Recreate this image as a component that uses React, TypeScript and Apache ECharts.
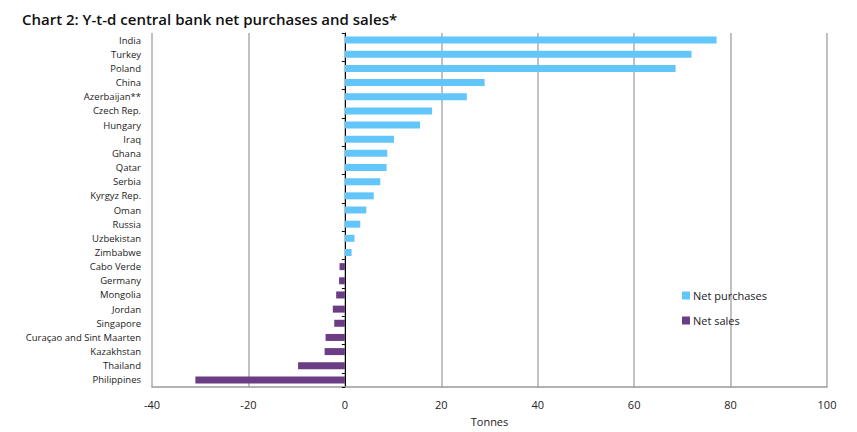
import React, { useEffect, useRef } from "react";
import * as echarts from "echarts";

const categories = [
  "India", "Turkey", "Poland", "China", "Azerbaijan**", "Czech Rep.", "Hungary", "Iraq",
  "Ghana", "Qatar", "Serbia", "Kyrgyz Rep.", "Oman", "Russia", "Uzbekistan", "Zimbabwe",
  "Cabo Verde", "Germany", "Mongolia", "Jordan", "Singapore", "Curaçao and Sint Maarten",
  "Kazakhstan", "Thailand", "Philippines",
];

const netPurchases: (number | string)[] = [
  77.1, 71.9, 68.6, 29.0, 25.3, 18.1, 15.6, 10.2,
  8.8, 8.65, 7.35, 6.0, 4.45, 3.2, 2.0, 1.4,
  "-", "-", "-", "-", "-", "-", "-", "-", "-",
];

const netSales: (number | string)[] = [
  "-", "-", "-", "-", "-", "-", "-", "-",
  "-", "-", "-", "-", "-", "-", "-", "-",
  -1.1, -1.2, -1.8, -2.5, -2.2, -4.0, -4.2, -9.7, -31.0,
];

const xTicks = { min: -40, max: 100, interval: 20 };

const FONT = "'Open Sans', 'Noto Sans', sans-serif";

export default function App() {
  const ref = useRef<HTMLDivElement>(null);
  useEffect(() => {
    if (!ref.current) return;
    document.body.style.margin = "0";
    document.body.style.overflow = "hidden";
    const chart = echarts.init(ref.current, undefined, { renderer: "svg" });
    chart.setOption({
      animation: false,
      backgroundColor: "#ffffff",
      textStyle: { fontFamily: FONT },
      title: {
        text: "Chart 2: Y-t-d central bank net purchases and sales*",
        left: 17,
        top: 6,
        textStyle: { fontFamily: FONT, fontSize: 15, fontWeight: 600, color: "#111" },
      },
      legend: {
        orient: "vertical",
        left: 677,
        top: 285,
        icon: "rect",
        itemWidth: 8,
        itemHeight: 8,
        itemGap: 14,
        textStyle: { fontFamily: FONT, fontSize: 11, color: "#222", padding: [0, 0, 0, -2] },
        data: ["Net purchases", "Net sales"],
      },
      grid: { left: 152, right: 30, top: 33, bottom: 44, containLabel: false },
      xAxis: {
        type: "value",
        min: xTicks.min,
        max: xTicks.max,
        interval: xTicks.interval,
        name: "Tonnes",
        nameLocation: "middle",
        nameGap: 29,
        nameTextStyle: { fontFamily: FONT, fontSize: 11, color: "#222" },
        axisLine: { show: true, onZero: false, lineStyle: { color: "#999", width: 1.5 } },
        axisTick: { show: false },
        splitLine: { show: true, lineStyle: { color: "#adadad", width: 1.5 } },
        axisLabel: { fontFamily: FONT, fontSize: 11, color: "#222", margin: 12 },
      },
      yAxis: [
        {
          type: "category",
          data: categories,
          inverse: true,
          position: "left",
          axisLine: { show: false, onZero: false },
          axisTick: { show: false },
          axisLabel: { fontFamily: FONT, fontSize: 9.5, color: "#222", margin: 11 },
          splitLine: { show: false },
        },
        {
          type: "category",
          data: categories,
          inverse: true,
          position: "left",
          axisLine: { show: true, onZero: true, lineStyle: { color: "#000", width: 1 } },
          axisTick: { show: true, inside: false, length: 3, lineStyle: { color: "#000" } },
          axisLabel: { show: false },
          splitLine: { show: false },
        },
      ],
      series: [
        {
          name: "Net purchases",
          type: "bar",
          stack: "all",
          yAxisIndex: 0,
          barWidth: 7,
          itemStyle: { color: "#63c6fb" },
          data: netPurchases,
        },
        {
          name: "Net sales",
          type: "bar",
          stack: "all",
          yAxisIndex: 0,
          barWidth: 7,
          itemStyle: { color: "#6a3d85" },
          data: netSales,
        },
      ],
    });
    return () => chart.dispose();
  }, []);
  return <div ref={ref} style={{ position: "absolute", left: 0, top: 0, width: 857, height: 432 }} />;
}
